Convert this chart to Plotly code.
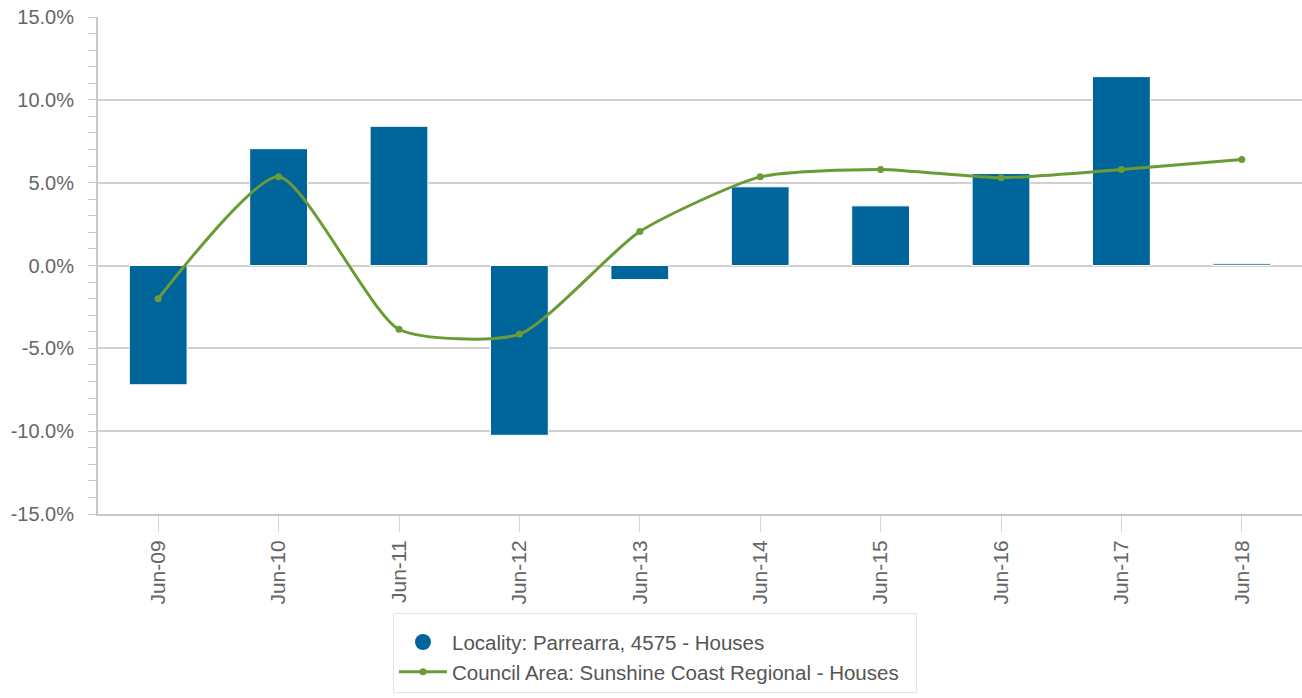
import plotly.graph_objects as go

# Data (percent change)
categories = ["Jun-09", "Jun-10", "Jun-11", "Jun-12", "Jun-13",
              "Jun-14", "Jun-15", "Jun-16", "Jun-17", "Jun-18"]
locality_values = [-7.2, 7.05, 8.4, -10.25, -0.85, 4.75, 3.6, 5.55, 11.4, 0.1]
council_values = [-2.0, 5.35, -3.85, -4.15, 2.05, 5.35, 5.8, 5.3, 5.8, 6.4]

y_tick_values = [-15, -10, -5, 0, 5, 10, 15]
y_tick_labels = ["-15.0%", "-10.0%", "-5.0%", "0.0%", "5.0%", "10.0%", "15.0%"]

locality_name = "Locality: Parrearra, 4575 - Houses"
council_name = "Council Area: Sunshine Coast Regional - Houses"

BAR_COLOR = "#00659b"
LINE_COLOR = "#6a9b36"
FONT = "Liberation Sans, Arial, sans-serif"

fig = go.Figure()

# Bars (legend entry drawn by a circle-marker proxy below)
fig.add_trace(
    go.Bar(
        x=categories,
        y=locality_values,
        marker={"color": BAR_COLOR, "line": {"color": "white", "width": 1}},
        width=0.48,
        showlegend=False,
        name=locality_name,
    )
)

# Legend proxy for bars: circle marker
fig.add_trace(
    go.Scatter(
        x=[categories[0]],
        y=[None],
        mode="markers",
        marker={"color": BAR_COLOR, "size": 20, "symbol": "circle"},
        name=locality_name,
    )
)

# Council area line
fig.add_trace(
    go.Scatter(
        x=categories,
        y=council_values,
        mode="lines+markers",
        line={"color": LINE_COLOR, "width": 3, "shape": "spline", "smoothing": 0.6},
        marker={"color": LINE_COLOR, "size": 7},
        name=council_name + "\u00a0\u00a0",
    )
)

fig.update_layout(
    width=1302,
    height=698,
    paper_bgcolor="white",
    plot_bgcolor="white",
    margin={"l": 98, "r": 0, "t": 17, "b": 184, "autoexpand": False},
    font={"family": FONT, "color": "#666666", "size": 20},
    showlegend=True,
    legend={
        "x": 0.245,
        "xanchor": "left",
        "y": -0.2,
        "yanchor": "top",
        "bgcolor": "white",
        "bordercolor": "#e3e3e3",
        "borderwidth": 1,
        "font": {"size": 20.5, "color": "#555555", "family": FONT},
        "title": {"text": " ", "font": {"size": 6}},
        "itemwidth": 48,
        "tracegroupgap": 4,
    },
    xaxis={
        "type": "category",
        "range": [-0.5, 9.5],
        "automargin": False,
        "showgrid": False,
        "showline": True,
        "linecolor": "#c8c8c8",
        "linewidth": 2,
        "ticks": "outside",
        "ticklen": 16,
        "tickcolor": "#ccd6eb",
        "tickangle": -90,
        "ticklabelstandoff": 0,
        "tickfont": {"size": 21, "color": "#666666"},
        "zeroline": False,
    },
    yaxis={
        "automargin": False,
        "range": [-15, 15],
        "tickvals": y_tick_values,
        "ticktext": y_tick_labels,
        "ticklabeloverflow": "allow",
        "showgrid": True,
        "gridcolor": "#d0d0d0",
        "gridwidth": 1.5,
        "zeroline": True,
        "zerolinecolor": "#d0d0d0",
        "zerolinewidth": 1.5,
        "showline": True,
        "linecolor": "#c8c8c8",
        "linewidth": 2,
        "ticks": "outside",
        "ticklen": 8,
        "tickcolor": "#c8c8c8",
        "ticklabelstandoff": 10,
        "tickfont": {"size": 20, "color": "#666666"},
        "minor": {
            "dtick": 1,
            "tick0": 0,
            "ticks": "outside",
            "ticklen": 8,
            "tickcolor": "#c8c8c8",
            "showgrid": False,
        },
    },
)

# drop the default 8px body margin so the figure fills the window
fig.write_html(
    "out.html",
    config={"displayModeBar": False},
    post_script="document.body.style.margin='0';",
)
